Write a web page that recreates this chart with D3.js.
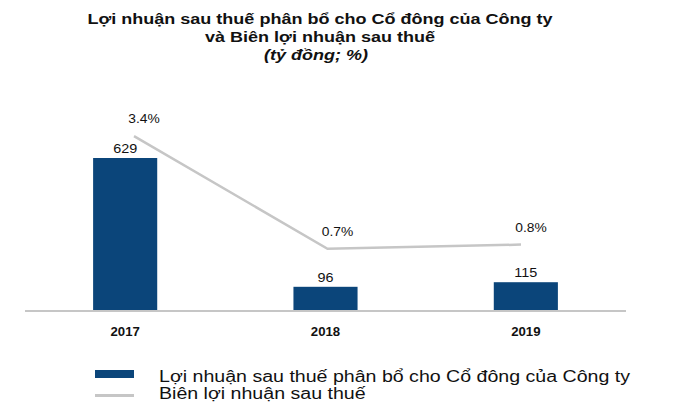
<!DOCTYPE html>
<meta charset="utf-8">
<head>
    <script src="https://d3js.org/d3.v7.min.js"></script>
    <style>
        body { margin: 0; background: #fff; font-family: "Liberation Sans", Arial, sans-serif; }
    </style>
</head>
<body>
<div id="chart"></div>
<script>
    // data
    var years = ["2017", "2018", "2019"];
    var profit = [629, 96, 115];
    var margin = [3.4, 0.7, 0.8];
    var marginLabels = ["3.4%", "0.7%", "0.8%"];
    var titleLines = ["Lợi nhuận sau thuế phân bổ cho Cổ đông của Công ty", "và Biên lợi nhuận sau thuế"];
    var unitLine = "(tỷ đồng; %)";
    var legendNames = ["Lợi nhuận sau thuế phân bổ cho Cổ đông của Công ty", "Biên lợi nhuận sau thuế"];

    var width = 684, height = 409;
    var blue = "#0b457a", grey = "#c6c6c6";
    var font = "'Liberation Sans', Arial, sans-serif";

    var svg = d3.select("#chart").append("svg")
        .attr("width", width)
        .attr("height", height);

    // the source picture is a bit wider than normal type, so stretch text horizontally
    var stretch = function(sel, k) {
        sel.each(function() {
            var w = this.getComputedTextLength();
            d3.select(this).attr("textLength", w * k).attr("lengthAdjust", "spacingAndGlyphs");
        });
    };

    // scales
    var x = d3.scaleBand().domain(years).range([25, 626]).paddingInner(0.68).paddingOuter(0.34);
    var y = d3.scaleLinear().domain([0, 629]).range([310, 158]);
    var xl = d3.scalePoint().domain(years).range([134, 521]);
    var y2 = d3.scaleLinear().domain([0, 4]).range([278, 111]);

    // title
    var title = svg.append("g");
    title.selectAll("text")
        .data(titleLines)
        .enter().append("text")
        .attr("x", 320)
        .attr("y", function(d, i) { return 24 + i * 18; })
        .attr("text-anchor", "middle")
        .style("font", "bold 14px " + font)
        .attr("fill", "#111")
        .text(function(d) { return d; });

    title.append("text")
        .attr("x", 316)
        .attr("y", 60)
        .attr("text-anchor", "middle")
        .style("font", "italic bold 14px " + font)
        .attr("fill", "#111")
        .text(unitLine);

    var tk = 465 / title.select("text").node().getComputedTextLength();
    stretch(title.selectAll("text"), tk);

    // bars
    svg.selectAll(".bar")
        .data(profit)
        .enter().append("rect")
        .attr("class", "bar")
        .attr("x", function(d, i) { return x(years[i]); })
        .attr("width", x.bandwidth())
        .attr("y", function(d) { return y(d); })
        .attr("height", function(d) { return y(0) - y(d); })
        .attr("fill", blue);

    var barLabels = svg.selectAll(".barLabel")
        .data(profit)
        .enter().append("text")
        .attr("class", "barLabel")
        .attr("x", function(d, i) { return x(years[i]) + x.bandwidth() / 2; })
        .attr("y", function(d) { return y(d) - 5; })
        .attr("text-anchor", "middle")
        .style("font", "12px " + font)
        .attr("fill", "#111")
        .text(function(d) { return d; });
    stretch(barLabels, 1.2);

    // baseline
    svg.append("line")
        .attr("x1", 25).attr("x2", 626)
        .attr("y1", y(0) + 1).attr("y2", y(0) + 1)
        .attr("stroke", grey)
        .attr("stroke-width", 2);

    // year labels
    var xAxis = svg.append("g")
        .attr("transform", "translate(0," + (y(0) + 1) + ")")
        .call(d3.axisBottom(x).tickSize(0).tickPadding(16));
    xAxis.select(".domain").remove();
    xAxis.selectAll("text")
        .style("font", "bold 12px " + font)
        .attr("fill", "#111");
    stretch(xAxis.selectAll("text"), 1.1);

    // margin line
    var line = d3.line()
        .x(function(d, i) { return xl(years[i]); })
        .y(function(d) { return y2(d); });

    svg.append("path")
        .datum(margin)
        .attr("d", line)
        .attr("fill", "none")
        .attr("stroke", grey)
        .attr("stroke-width", 2.5);

    var lineLabels = svg.selectAll(".lineLabel")
        .data(margin)
        .enter().append("text")
        .attr("class", "lineLabel")
        .attr("x", function(d, i) { return xl(years[i]) + 10; })
        .attr("y", function(d) { return y2(d) - 13; })
        .attr("text-anchor", "middle")
        .style("font", "12px " + font)
        .attr("fill", "#111")
        .text(function(d, i) { return marginLabels[i]; });
    stretch(lineLabels, 1.15);

    // legend
    var legend = svg.append("g");
    legend.append("rect")
        .attr("x", 95).attr("y", 370)
        .attr("width", 39).attr("height", 8)
        .attr("fill", blue);
    legend.append("line")
        .attr("x1", 95).attr("x2", 134)
        .attr("y1", 395.5).attr("y2", 395.5)
        .attr("stroke", grey)
        .attr("stroke-width", 3);
    var legendText = legend.selectAll("text")
        .data(legendNames)
        .enter().append("text")
        .attr("x", 159)
        .attr("y", function(d, i) { return 382 + i * 17; })
        .style("font", "16px " + font)
        .attr("fill", "#111")
        .text(function(d) { return d; });
    var lk = 471 / legendText.node().getComputedTextLength();
    stretch(legendText, lk);
</script>
</body>
